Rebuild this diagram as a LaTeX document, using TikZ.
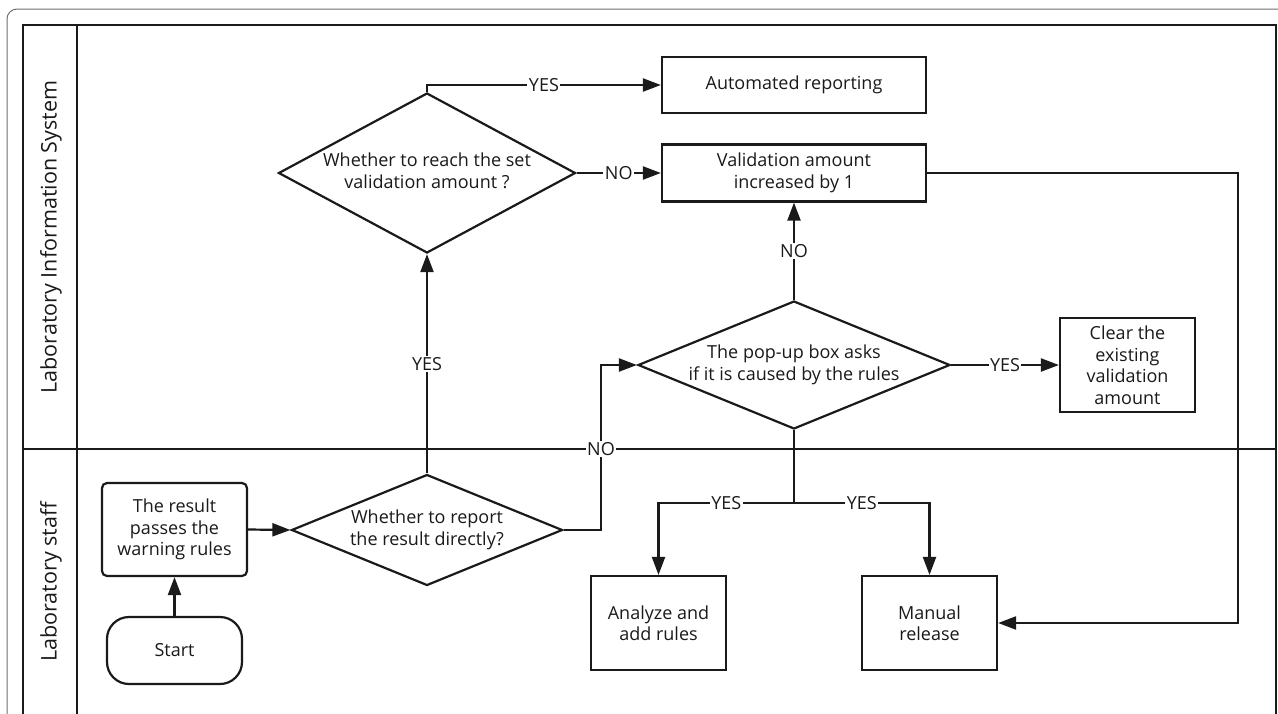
\documentclass[tikz,border=0pt]{standalone}
\usepackage{fontspec}
\setmainfont{Open Sans}
\usetikzlibrary{shapes.geometric,arrows.meta}
\definecolor{ink}{HTML}{1A1A1A}
\definecolor{framegray}{HTML}{707070}
\newcommand\dtxt[1]{\makebox[0pt]{\begin{tabular}{@{}c@{}}#1\end{tabular}}}
\begin{document}
\begin{tikzpicture}[x=1pt,y=-1pt,
  every node/.style={font=\fontsize{18}{21.5}\selectfont, text=ink},
  lane/.style={draw=ink, line width=2.2pt},
  boxnode/.style={draw=ink, line width=2.2pt, rectangle, align=center, inner sep=0pt},
  decide/.style={draw=ink, line width=2.2pt, diamond, inner sep=0pt},
  conn/.style={draw=ink, line width=2.2pt, -{Triangle[length=18pt,width=13pt]}},
  plain/.style={draw=ink, line width=2.2pt},
  lbl/.style={fill=white, inner sep=1.5pt},
  lanetitle/.style={rotate=90, font=\fontsize{21.5}{25}\selectfont}
]
\useasboundingbox (0,0) rectangle (1278,713);
\clip (0,0) rectangle (1278,713);
\fill[white] (0,0) rectangle (1278,713);
% outer rounded frame
\draw[framegray, line width=1pt, rounded corners=10pt] (7,9) rectangle (1320,760);
% swimlanes
\draw[lane] (23,760) -- (23,25) -- (1276,25) -- (1276,760);
\draw[lane] (77,25) -- (77,760);
\draw[lane] (23,449) -- (1276,449);
\node[lanetitle] (lisl) at (51,237) {Laboratory Information System};
\node[lanetitle] (staffl) at (51,582) {Laboratory staff};

% nodes
\node[decide, minimum width=297pt, minimum height=160pt] (d1) at (427,173)
  {\dtxt{Whether to reach the set\\validation amount ?}};
\node[boxnode, minimum width=264pt, minimum height=56pt] (auto) at (794,85) {Automated reporting};
\node[boxnode, minimum width=264pt, minimum height=57pt] (valid) at (794,173) {Validation amount\\increased by 1};
\node[decide, minimum width=312pt, minimum height=128pt] (d2) at (794,365)
  {\dtxt{The pop-up box asks\\if it is caused by the rules}};
\node[boxnode, minimum width=135pt, minimum height=94pt] (clear) at (1127.5,365) {Clear the\\existing\\validation\\amount};
\node[decide, minimum width=271pt, minimum height=111pt] (d3) at (427,530)
  {\dtxt{Whether to report\\the result directly?}};
\node[boxnode, rounded corners=5pt, minimum width=145pt, minimum height=93pt] (res) at (174.5,529.5) {The result\\passes the\\warning rules};
\node[boxnode, rounded corners=22pt, minimum width=135pt, minimum height=67pt] (start) at (174.5,650.5) {Start};
\node[boxnode, minimum width=135pt, minimum height=94pt] (ana) at (658.5,623) {Analyze and\\add rules};
\node[boxnode, minimum width=135pt, minimum height=94pt] (man) at (929.5,623) {Manual\\release};

\coordinate (split) at (794,503);
\coordinate (ret) at (1238,173);
\coordinate (nojog) at (601,530);

% connectors
\draw[conn] (start.north) -- (res.south);
\draw[conn] (res.east) -- (d3.west);
\draw[conn] (d3.north) -- node[lbl] {YES} (d1.south);
\draw[conn] (d3.east) -- (nojog) |- node[lbl, pos=0.245] {NO} (d2.west);
\draw[conn] (d1.north) |- node[lbl, pos=0.75] {YES} (auto.west);
\draw[conn] (d1.east) -- node[lbl] {NO} (valid.west);
\draw[conn] (d2.north) -- node[lbl] {NO} (valid.south);
\draw[conn] (d2.east) -- node[lbl] {YES} (clear.west);
\draw[plain] (d2.south) -- (split);
\draw[conn] (split) -| node[lbl, pos=0.25] {YES} (ana.north);
\draw[conn] (split) -| node[lbl, pos=0.25] {YES} (man.north);
\draw[conn] (valid.east) -- (ret) |- (man.east);
\end{tikzpicture}
\end{document}
